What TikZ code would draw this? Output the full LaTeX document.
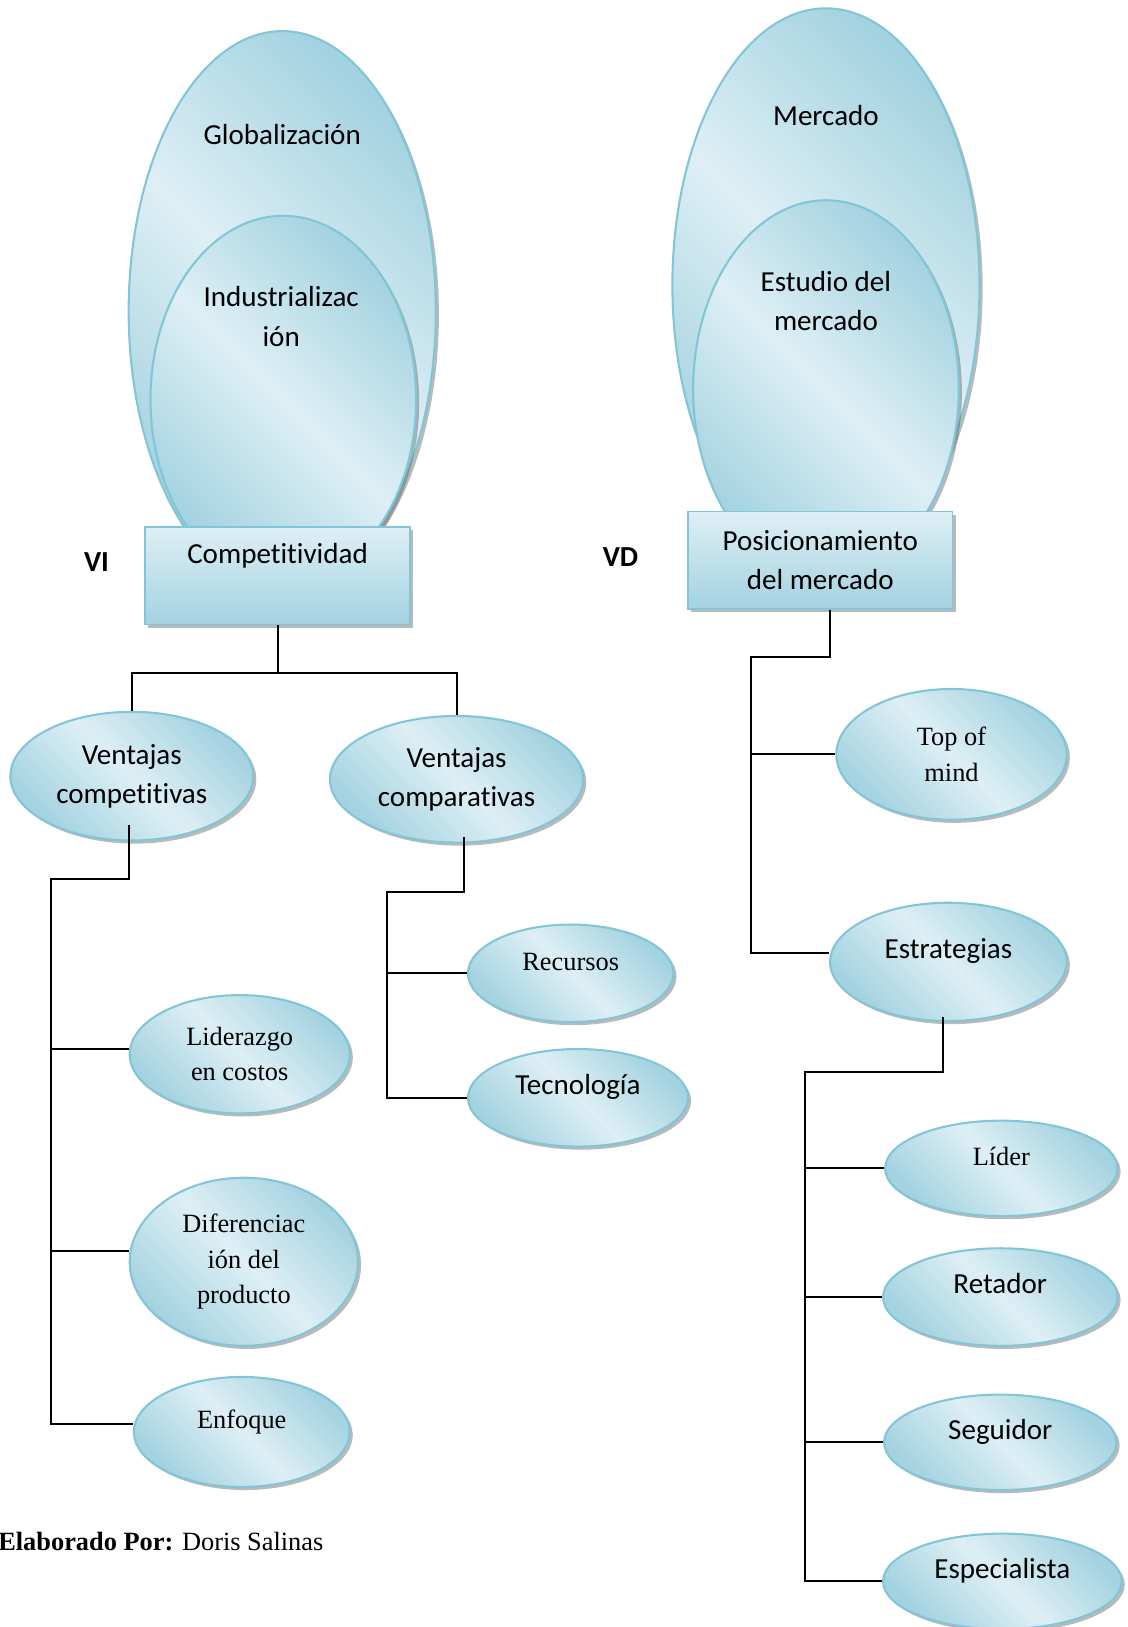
\documentclass[tikz,border=0pt]{standalone}
\usepackage{fontspec}
\setmainfont{Liberation Serif}[Ligatures=NoCommon]
\newfontfamily\calibri{Carlito}[Ligatures=NoCommon]
\usetikzlibrary{shapes.geometric,shadows}

\definecolor{celeste}{RGB}{222,239,245}
\definecolor{turquesa}{RGB}{163,210,224}
\definecolor{borde}{RGB}{130,197,215}

\newcommand{\letrasans}{\calibri\fontsize{14}{19}\selectfont}
\newcommand{\letraserif}{\fontsize{12.7}{17}\selectfont}

\tikzset{
    sombra/.style={drop shadow={shadow xshift=1.5pt, shadow yshift=-1.5pt, fill=black!55, opacity=0.5}},
    burbuja/.style={ellipse, draw=borde, line width=1pt, sombra,
        left color=turquesa, right color=turquesa, middle color=celeste, shading angle=135,
        align=center, inner sep=0pt},
    caja/.style={rectangle, draw=borde, line width=0.8pt, sombra,
        top color=celeste, bottom color=turquesa, align=center, font=\letrasans},
    letrasans/.style={font=\letrasans},
    letraserif/.style={font=\letraserif},
    unalinea/.style={text height=9pt, text depth=12pt},
    rama/.style={line width=1pt},
}

\begin{document}
\begin{tikzpicture}[x=0.5pt, y=-0.5pt]
    \useasboundingbox (0,0) rectangle (1087,1568);

    % variable independiente
    \node[burbuja, minimum width=148pt, minimum height=270pt] (glob) at (272,300) {};
    \node[burbuja, minimum width=128pt, minimum height=177pt] (indus) at (273,385) {};
    \node[caja, minimum width=127.5pt, minimum height=47pt, text height=9pt, text depth=21pt]
        (compet) at (267.5,555) {Competitividad};
    \node[letrasans] (tglob) at (272,130) {Globalización};
    \node[letrasans, align=center] (tindus) at (271,305) {Industrializac\\ión};
    \node[font=\letrasans\bfseries] (vi) at (93,542) {VI};

    % variable dependiente
    \node[burbuja, minimum width=148pt, minimum height=267pt] (merc) at (796,275) {};
    \node[burbuja, minimum width=128pt, minimum height=182pt] (estud) at (796,375) {};
    \node[caja, minimum width=127.5pt, minimum height=47pt] (posic) at (790.5,540)
        {Posicionamiento\\del mercado};
    \node[letrasans] (tmerc) at (796,111) {Mercado};
    \node[letrasans, align=center] (testud) at (796,290) {Estudio del\\mercado};
    \node[font=\letrasans\bfseries] (vd) at (598,537) {VD};

    % ventajas
    \node[burbuja, letrasans, minimum width=117pt, minimum height=62pt] (vcomp) at (127,748)
        {Ventajas\\competitivas};
    \node[burbuja, letrasans, minimum width=122pt, minimum height=61pt] (vcompa) at (440,751)
        {Ventajas\\comparativas};
    \node[burbuja, letraserif, minimum width=106pt, minimum height=57pt] (liderazgo) at (231,1016)
        {Liderazgo\\en costos};
    \node[burbuja, letraserif, minimum width=110pt, minimum height=81pt] (difer) at (235,1216)
        {Diferenciac\\ión del\\producto};
    \node[burbuja, letraserif, unalinea, minimum width=104pt, minimum height=53pt] (enfoque) at (233,1380) {Enfoque};
    \node[burbuja, letraserif, unalinea, minimum width=99pt, minimum height=47pt] (recursos) at (550,938) {Recursos};
    \node[burbuja, letrasans, unalinea, minimum width=106pt, minimum height=47pt] (tecno) at (557,1058) {Tecnología};

    % posicionamiento
    \node[burbuja, letraserif, minimum width=111pt, minimum height=63pt] (topmind) at (917,727) {Top of\\mind};
    \node[burbuja, letrasans, unalinea, minimum width=114pt, minimum height=57pt] (estrat) at (914,927) {Estrategias};
    \node[burbuja, letraserif, unalinea, minimum width=112pt, minimum height=46pt] (lider) at (965,1126) {Líder};
    \node[burbuja, letrasans, unalinea, minimum width=113pt, minimum height=47pt] (retador) at (964,1250) {Retador};
    \node[burbuja, letrasans, unalinea, minimum width=112pt, minimum height=46pt] (seguidor) at (964,1390) {Seguidor};
    \node[burbuja, letrasans, unalinea, minimum width=115pt, minimum height=46pt] (especial) at (966,1524) {Especialista};

    % ramas
    \draw[rama] (compet.south) -- ++(0,46) coordinate (nudoA);
    \draw[rama] (vcomp.north) |- (nudoA) -| (vcompa.north);

    \coordinate (busA) at (49,847);
    \draw[rama] ([xshift=-1.5pt, yshift=8pt]vcomp.south) |- (busA) |- ([yshift=4pt]enfoque.west);
    \foreach \n/\d in {liderazgo/2.5pt, difer/5pt}
        \draw[rama] ([yshift=\d]\n.west) -| (busA);

    \coordinate (busB) at (373,860);
    \draw[rama] ([xshift=3.5pt, yshift=3pt]vcompa.south) |- (busB) |- (tecno.west);
    \draw[rama] (recursos.west) -| (busB);

    \coordinate (busC) at (724,633);
    \draw[rama] ([xshift=4.5pt]posic.south) |- (busC) |- ([yshift=4.5pt]estrat.west);
    \draw[rama] (topmind.west) -| (busC);

    \coordinate (busD) at (776,1033);
    \draw[rama] ([xshift=-2.5pt, yshift=2.5pt]estrat.south) |- (busD) |- (especial.west);
    \foreach \n in {lider, retador, seguidor}
        \draw[rama] (\n.west) -| (busD);

    \node[letraserif, anchor=west, inner sep=0pt] (autor) at (-2,1486)
        {\textbf{Elaborado Por:} Doris Salinas};
\end{tikzpicture}
\end{document}
